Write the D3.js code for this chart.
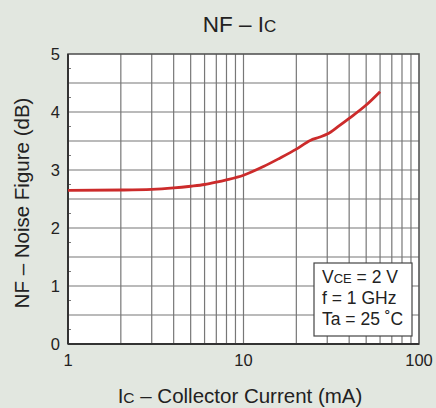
<!DOCTYPE html>
<html>
<head>
<meta charset="utf-8">
<script src="https://cdn.jsdelivr.net/npm/d3@7"></script>
<style>
  body { margin: 0; background: #e2e7e0; }
  svg { display: block; font-family: "Liberation Sans", Arial, sans-serif; }
  text { fill: #222; }
</style>
</head>
<body>
<div id="chart"></div>
<script>
// values
const icValues = [1, 2, 3, 4, 5, 6, 7, 8, 10, 13, 16, 20, 24, 27, 30, 35, 40, 50, 60];
const nfValues = [2.65, 2.655, 2.665, 2.69, 2.72, 2.75, 2.79, 2.83, 2.91, 3.06, 3.2, 3.36, 3.51, 3.565, 3.62, 3.76, 3.89, 4.12, 4.35];
const xTickLabels = [1, 10, 100];
const yTickLabels = [0, 1, 2, 3, 4, 5];
const conditions = [["V", "CE", " = 2 V"], ["f = 1 GHz", "", ""], ["Ta = 25 ˚C", "", ""]];

const width = 436, height = 408;
const margin = { left: 68, right: 17, top: 54, bottom: 64 };

const svg = d3.select('#chart').append('svg')
    .attr('width', width)
    .attr('height', height);

svg.append('rect').attr('width', width).attr('height', height).attr('fill', '#e2e7e0');

const x = d3.scaleLog().domain([1, 100]).range([margin.left, width - margin.right]);
const y = d3.scaleLinear().domain([0, 5]).range([height - margin.bottom, margin.top]);

// plot area
svg.append('rect')
    .attr('x', x(1)).attr('y', y(5))
    .attr('width', x(100) - x(1)).attr('height', y(0) - y(5))
    .attr('fill', '#fff');

// grid
const xGrid = [];
for (const dec of [1, 10]) for (let k = 2; k <= 9; k++) xGrid.push(dec * k);
xGrid.push(10);
svg.append('g').selectAll('line').data(xGrid).join('line')
    .attr('x1', d => x(d)).attr('x2', d => x(d))
    .attr('y1', y(0)).attr('y2', y(5))
    .attr('stroke', '#777').attr('stroke-width', 1.2);

const yGrid = d3.range(0.5, 5, 0.5);
svg.append('g').selectAll('line').data(yGrid).join('line')
    .attr('x1', x(1)).attr('x2', x(100))
    .attr('y1', d => y(d)).attr('y2', d => y(d))
    .attr('stroke', '#777').attr('stroke-width', 1.2);

// small inner ticks at quarter values on left edge
const minorTicks = d3.range(0.25, 5, 0.5);
svg.append('g').selectAll('line').data(minorTicks).join('line')
    .attr('x1', x(1)).attr('x2', x(1) + 3)
    .attr('y1', d => y(d)).attr('y2', d => y(d))
    .attr('stroke', '#777').attr('stroke-width', 1);

// frame
svg.append('rect')
    .attr('x', x(1)).attr('y', y(5))
    .attr('width', x(100) - x(1)).attr('height', y(0) - y(5))
    .attr('fill', 'none').attr('stroke', '#555').attr('stroke-width', 1.6);
svg.append('line')
    .attr('x1', x(1)).attr('x2', x(100)).attr('y1', y(0)).attr('y2', y(0))
    .attr('stroke', '#333').attr('stroke-width', 2);
svg.append('line')
    .attr('x1', x(1)).attr('x2', x(1)).attr('y1', y(0)).attr('y2', y(5))
    .attr('stroke', '#333').attr('stroke-width', 2);

// curve
const line = d3.line()
    .x((d, i) => x(icValues[i]))
    .y(d => y(d))
    .curve(d3.curveMonotoneX);
svg.append('path')
    .datum(nfValues)
    .attr('d', line)
    .attr('fill', 'none')
    .attr('stroke', '#cc2b2b')
    .attr('stroke-width', 2.8);

// tick labels
svg.append('g').selectAll('text').data(yTickLabels).join('text')
    .attr('x', x(1) - 8).attr('y', d => y(d) + 6)
    .attr('text-anchor', 'end')
    .attr('font-size', 16.5)
    .text(d => d);

svg.append('g').selectAll('text').data(xTickLabels).join('text')
    .attr('x', d => x(d)).attr('y', y(0) + 22)
    .attr('text-anchor', 'middle')
    .attr('font-size', 16.5)
    .text(d => d);

// title
const title = svg.append('text')
    .attr('x', 239.5).attr('y', 32)
    .attr('text-anchor', 'middle')
    .attr('font-size', 22.5);
title.append('tspan').text('NF – I');
title.append('tspan').attr('font-size', 17).text('C');

// axis labels
const xLabel = svg.append('text')
    .attr('x', 240).attr('y', 403)
    .attr('text-anchor', 'middle')
    .attr('font-size', 20.5);
xLabel.append('tspan').text('I');
xLabel.append('tspan').attr('font-size', 15.5).text('C');
xLabel.append('tspan').text(' – Collector Current (mA)');

svg.append('text')
    .attr('transform', `translate(29,${(y(0) + y(5)) / 2 + 4}) rotate(-90)`)
    .attr('text-anchor', 'middle')
    .attr('font-size', 20.5)
    .text('NF – Noise Figure (dB)');

// conditions box
const box = svg.append('g');
box.append('rect')
    .attr('x', 314).attr('y', 263)
    .attr('width', 98).attr('height', 73)
    .attr('fill', '#fff').attr('stroke', '#444').attr('stroke-width', 1.2);
box.selectAll('text').data(conditions).join('text')
    .attr('x', 322).attr('y', (d, i) => 283 + i * 21)
    .attr('font-size', 17.5)
    .each(function (d) {
        const t = d3.select(this);
        t.append('tspan').text(d[0]);
        if (d[1]) t.append('tspan').attr('font-size', 13).text(d[1]);
        if (d[2]) t.append('tspan').text(d[2]);
    });
</script>
</body>
</html>
